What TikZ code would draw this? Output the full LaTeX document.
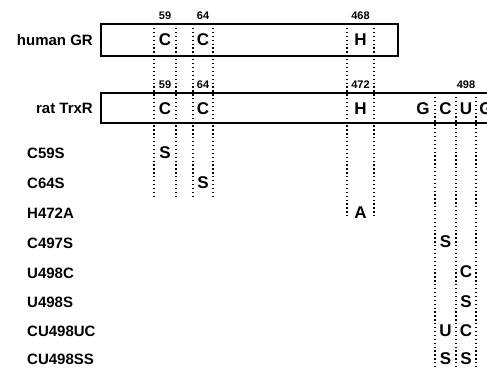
\documentclass[tikz,border=0pt]{standalone}
\usepackage{fontspec}
\setmainfont{Liberation Sans}
\begin{document}
\begin{tikzpicture}[x=1pt,y=-1pt,
  boxline/.style={line width=1.1pt},
  dotline/.style={line width=1.3pt,dash pattern=on 1.3pt off 2.6pt},
  lab/.style={font=\fontsize{15}{15}\selectfont\bfseries,inner sep=0pt},
  code/.style={font=\fontsize{17}{17}\selectfont\bfseries,inner sep=0pt},
  num/.style={font=\fontsize{11}{11}\selectfont\bfseries,inner sep=0pt}]
\useasboundingbox (0,0) rectangle (487,368);
\begin{scope}
\clip (0,0) rectangle (487,368);
% boxes
\draw[boxline] (101,24) rectangle (398,56);
\draw[boxline] (495,93) -- (101,93) -- (101,123) -- (495,123);
% dotted columns
\coordinate (a1t) at (154,24); \coordinate (a1b) at (154,196);
\coordinate (a2t) at (176,24); \coordinate (a2b) at (176,196);
\coordinate (b1t) at (193,24); \coordinate (b1b) at (193,196);
\coordinate (b2t) at (213,24); \coordinate (b2b) at (213,196);
\coordinate (h1t) at (347,24); \coordinate (h1b) at (347,218);
\coordinate (h2t) at (374,24); \coordinate (h2b) at (374,218);
\coordinate (g1t) at (435,93); \coordinate (g1b) at (435,368);
\coordinate (g2t) at (456,93); \coordinate (g2b) at (456,368);
\coordinate (g3t) at (476,93); \coordinate (g3b) at (476,368);
\foreach \p in {a1,a2,b1,b2,h1,h2,g1,g2,g3}
  \draw[dotline] (\p t) -- (\p b);
% labels
\node[lab,anchor=east] (hgr) at (93,40) {human GR};
\node[lab,anchor=east] (rtr) at (93,108) {rat TrxR};
% numbers
\node[num] (n59a) at (165,16) {59};
\node[num] (n64a) at (203,16) {64};
\node[num] (n468) at (360.5,16) {468};
\node[num] (n59b) at (165,85) {59};
\node[num] (n64b) at (203,85) {64};
\node[num] (n472) at (360.5,85) {472};
\node[num] (n498) at (466,85) {498};
% residues
\node[code] (hc1) at (165,40) {C};
\node[code] (hc2) at (203,40) {C};
\node[code] (hh) at (360.5,40) {H};
\node[code] (rc1) at (165,109) {C};
\node[code] (rc2) at (203,109) {C};
\node[code] (rh) at (360.5,109) {H};
\node[code] (rg) at (423,109) {G};
\node[code] (rc) at (445.5,109) {C};
\node[code] (ru) at (466,109) {U};
\node[code] (rg2) at (486,109) {G};
% mutants
\node[lab,anchor=west] (m1) at (27,153) {C59S};
\node[lab,anchor=west] (m2) at (27,183) {C64S};
\node[lab,anchor=west] (m3) at (27,213) {H472A};
\node[lab,anchor=west] (m4) at (27,243) {C497S};
\node[lab,anchor=west] (m5) at (27,273) {U498C};
\node[lab,anchor=west] (m6) at (27,302) {U498S};
\node[lab,anchor=west] (m7) at (27,331) {CU498UC};
\node[lab,anchor=west] (m8) at (27,359) {CU498SS};
\node[code] (s1) at (165,153) {S};
\node[code] (s2) at (203,183) {S};
\node[code] (s3) at (360.5,213) {A};
\node[code] (s4) at (445.5,242) {S};
\node[code] (s5) at (466,272) {C};
\node[code] (s6) at (466,302) {S};
\node[code] (s7) at (445.5,331) {U};
\node[code] (s8) at (466,331) {C};
\node[code] (s9) at (445.5,359) {S};
\node[code] (s10) at (466,359) {S};
\end{scope}
\end{tikzpicture}
\end{document}
